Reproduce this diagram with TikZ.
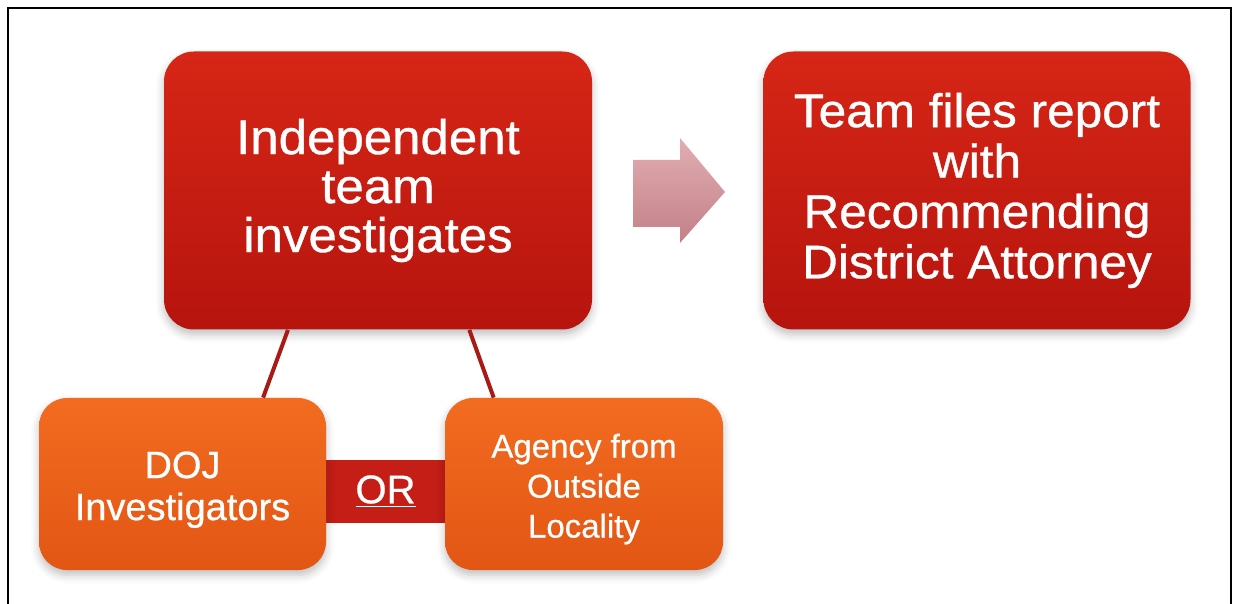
\documentclass[tikz,border=0pt]{standalone}
\usepackage{fontspec}
\setmainfont{Liberation Sans}
\newfontfamily\hvw[FakeStretch=1.05, BoldFont={Liberation Sans}, BoldFeatures={FakeBold=0.7}]{Liberation Sans}
\newfontfamily\hv[BoldFont={Liberation Sans}, BoldFeatures={FakeBold=0.6}]{Liberation Sans}
\usetikzlibrary{calc,shadows.blur}
\definecolor{redtop}{RGB}{214,38,22}
\definecolor{redbot}{RGB}{182,20,14}
\definecolor{ortop}{RGB}{242,108,32}
\definecolor{orbot}{RGB}{226,86,20}
\definecolor{linkred}{RGB}{168,26,22}
\definecolor{orbar}{RGB}{196,30,22}
\definecolor{arrtop}{RGB}{224,174,178}
\definecolor{arrbot}{RGB}{196,128,136}
\tikzset{
  redbox/.style={rounded corners=15pt, top color=redtop, bottom color=redbot, draw=none,
    text=white, align=center, inner sep=0pt,
    blur shadow={shadow xshift=0pt, shadow yshift=-2.5pt, shadow blur radius=4pt, shadow opacity=25}},
  orbox/.style={rounded corners=14pt, top color=ortop, bottom color=orbot, draw=none,
    text=white, align=center, inner sep=0pt,
    blur shadow={shadow xshift=0pt, shadow yshift=-2.5pt, shadow blur radius=4pt, shadow opacity=25}},
  link/.style={draw=linkred, line width=2pt},
  invtext/.style={font=\hvw\bfseries\fontsize{24.3}{24.5}\selectfont},
  reptext/.style={font=\hvw\bfseries\fontsize{23.6}{25.2}\selectfont},
  smalltext/.style={font=\hv\bfseries\fontsize{19}{21}\selectfont},
  tinytext/.style={font=\hv\bfseries\fontsize{16.5}{20}\selectfont}
}
\begin{document}
\begin{tikzpicture}[x=0.5pt,y=-0.5pt]
\useasboundingbox (0,0) rectangle (1233,604);
% frame
\draw[line width=1.2pt] (8,606) -- (8,8) -- (1231,8) -- (1231,606);
% OR band
\node[fill=orbar, minimum width=90pt, minimum height=31.5pt, inner sep=0pt, text=white,
      font=\hv\bfseries\fontsize{20}{22}\selectfont] (or) at (385.5,491.5) {\underline{OR}};
% boxes
\node[redbox, invtext, minimum width=214pt, minimum height=139pt] (inv) at (378,190.5)
  {Independent\\team\\investigates};
\node[redbox, reptext, minimum width=213.5pt, minimum height=139pt] (rep) at (977,190.5)
  {Team files report\\with\\Recommending\\District Attorney};
\node[orbox, smalltext, minimum width=143.5pt, minimum height=86pt] (doj) at (182.5,484)
  {\rule{0pt}{19pt}DOJ\\Investigators};
\node[orbox, tinytext, minimum width=139pt, minimum height=86pt] (agy) at (584,484)
  {\rule{0pt}{17pt}Agency from\\Outside\\Locality};
% connectors
\draw[link] ($(inv.south west)!0.29!(inv.south east)$) -- ($(doj.north west)!0.78!(doj.north east)$);
\draw[link] ($(inv.south west)!0.713!(inv.south east)$) -- ($(agy.north west)!0.176!(agy.north east)$);
% arrow
\path[top color=arrtop, bottom color=arrbot, draw=none]
  (633,160) -- (680,160) -- (680,138) -- (725,192) -- (680,243) -- (680,227) -- (633,227) -- cycle;
\end{tikzpicture}
\end{document}
